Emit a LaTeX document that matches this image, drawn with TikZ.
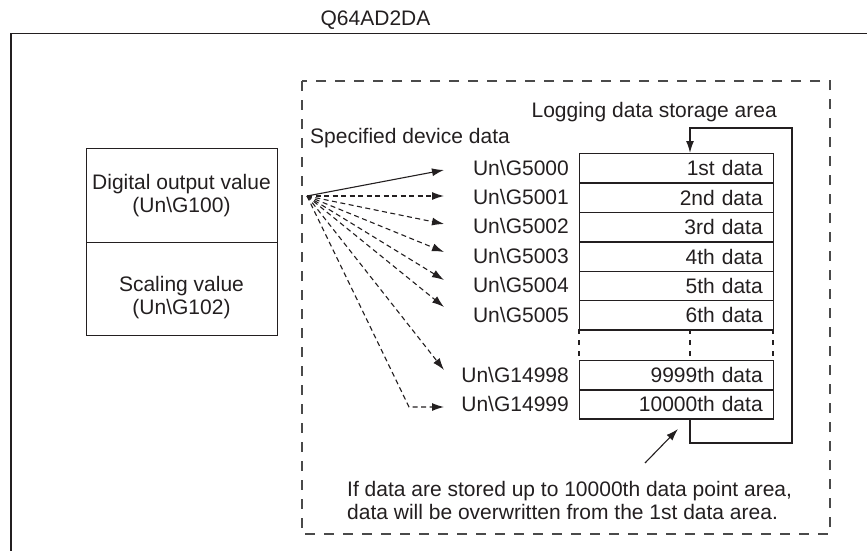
\documentclass[tikz,border=0pt]{standalone}
\usepackage{fontspec}
\setmainfont{Liberation Sans}
\usetikzlibrary{arrows.meta,calc}
\definecolor{ink}{HTML}{231F20}
\definecolor{dashink}{HTML}{4A4A4A}
\tikzset{
  txt/.style={inner sep=0pt, text=ink, font=\fontsize{21}{23}\selectfont},
  frame/.style={draw=ink, line width=1.5pt},
  regbox/.style={draw=ink, line width=1.4pt},
  rowbox/.style={draw=ink, line width=1.4pt, anchor=north west, minimum width=194pt,
    minimum height=29.4pt, text width=172pt, align=right, inner sep=0pt, text=ink,
    font=\fontsize{21}{23}\selectfont},
  reglabel/.style={txt, anchor=east},
  fan/.style={draw=ink, line width=1.1pt, -{Latex[length=12pt,width=8pt]}},
  fandash/.style={fan, dash pattern=on 5pt off 3.5pt},
  areabox/.style={draw=dashink, line width=1.4pt, dash pattern=on 10pt off 9pt},
  gapdash/.style={draw=ink, line width=1.3pt, dash pattern=on 5pt off 6pt},
  looparrow/.style={draw=ink, line width=1.4pt, -{Latex[length=12pt,width=8pt]}},
  notearrow/.style={draw=ink, line width=1.1pt, -{Latex[length=12pt,width=8pt]}}
}
\begin{document}
\begin{tikzpicture}[x=1pt,y=-1pt]
\useasboundingbox (0,0) rectangle (867,551);
% outer frame
\coordinate (fTR) at (867,33.5);
\coordinate (fTL) at (11,33.5);
\coordinate (fBL) at (11,551);
\draw[frame] (fTR) -- (fTL) -- (fBL);
\node[txt] (title) at (375.5,20) {Q64AD2DA};
% dashed area
\coordinate (aTL) at (302,81);
\coordinate (aBR) at (830,534);
\draw[areabox] (aTL) rectangle (aBR);
% left boxes
\node[regbox, minimum width=191pt, minimum height=94pt, anchor=north west, inner sep=0pt] (dov) at (86,148) {};
\node[regbox, minimum width=191pt, minimum height=93pt, anchor=north west, inner sep=0pt] (scl) at (86,242) {};
\node[txt, align=center] (dovt) at (181.5,196) {Digital output value\\(Un\textbackslash G100)};
\node[txt, align=center] (sclt) at (181.5,298) {Scaling value\\(Un\textbackslash G102)};
% headings
\node[txt, anchor=west] (spec) at (310,138) {Specified device data};
\node[txt, anchor=east] (logt) at (777,112) {Logging data storage area};
% table rows
\node[rowbox] (r1) at (579,153.0) {1st data};
\node[rowbox] (r2) at (579,182.4) {2nd data};
\node[rowbox] (r3) at (579,211.8) {3rd data};
\node[rowbox] (r4) at (579,241.2) {4th data};
\node[rowbox] (r5) at (579,270.6) {5th data};
\node[rowbox] (r6) at (579,300.0) {6th data};
\node[rowbox] (r7) at (579,359.8) {9999th data};
\node[rowbox] (r8) at (579,389.0) {10000th data};
% gap dashes
\coordinate (g1a) at (579,329.4); \coordinate (g1b) at (579,359.8);
\coordinate (g2a) at (690,329.4); \coordinate (g2b) at (690,359.8);
\coordinate (g3a) at (773,329.4); \coordinate (g3b) at (773,359.8);
\draw[gapdash] (g1a) -- (g1b);
\draw[gapdash] (g2a) -- (g2b);
\draw[gapdash] (g3a) -- (g3b);
% register labels
\node[reglabel] (l1) at (569,168) {Un\textbackslash G5000};
\node[reglabel] (l2) at (569,197) {Un\textbackslash G5001};
\node[reglabel] (l3) at (569,226) {Un\textbackslash G5002};
\node[reglabel] (l4) at (569,255.5) {Un\textbackslash G5003};
\node[reglabel] (l5) at (569,285) {Un\textbackslash G5004};
\node[reglabel] (l6) at (569,314.5) {Un\textbackslash G5005};
\node[reglabel] (l7) at (569,374.5) {Un\textbackslash G14998};
\node[reglabel] (l8) at (569,403.5) {Un\textbackslash G14999};
% fan of arrows
\coordinate (src) at (307,196);
\coordinate (t1) at (444,170);
\coordinate (t2) at (444,196);
\coordinate (t3) at (444,224);
\coordinate (t4) at (444,252);
\coordinate (t5) at (444,280);
\coordinate (t6) at (444,307);
\coordinate (t7) at (444,370);
\coordinate (c8) at (409,407);
\coordinate (t8) at (444,407);
\draw[fan] (src) -- (t1);
\draw[fandash] (src) -- (t2);
\draw[fandash] (src) -- (t3);
\draw[fandash] (src) -- (t4);
\draw[fandash] (src) -- (t5);
\draw[fandash] (src) -- (t6);
\draw[fandash] (src) -- (t7);
\draw[fandash] (src) -- (c8) -- (t8);
% loop back
\coordinate (lo) at (690,418.4);
\coordinate (lb) at (690,443);
\coordinate (lr) at (792,443);
\coordinate (lt) at (792,128);
\coordinate (li) at (690,153);
\draw[looparrow] (lo) -- (lb) -- (lr) -- (lt) -| (li);
% note
\node[txt, anchor=north west, align=left] (note) at (347,481) {If data are stored up to 10000th data point area,\\data will be overwritten from the 1st data area.};
\coordinate (ns) at (645,463);
\coordinate (ne) at (678,429);
\draw[notearrow] (ns) -- (ne);
\end{tikzpicture}
\end{document}
